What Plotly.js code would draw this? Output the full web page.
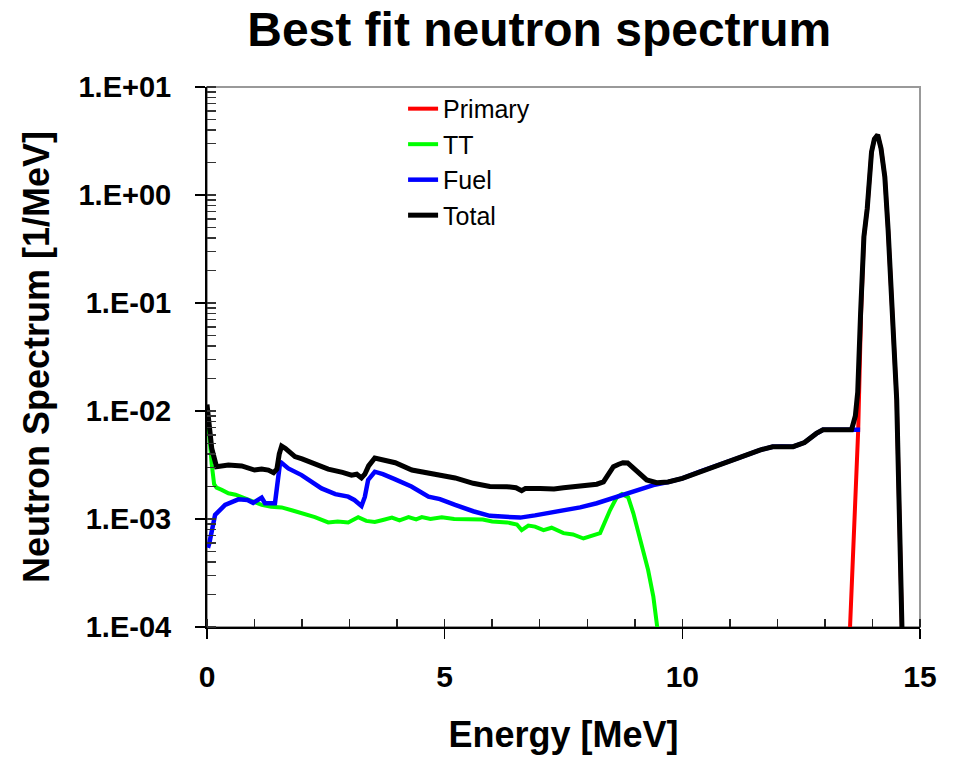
<!DOCTYPE html>
<html>
<head>
<meta charset="utf-8">
<script src="https://cdn.plot.ly/plotly-3.0.1.min.js"></script>
<style>html,body{margin:0;padding:0;background:#fff;}#chart{width:957px;height:757px;}</style>
</head>
<body>
<div id="chart"></div>
<script>
// ---- data ----
var seriesNames = ["Primary", "TT", "Fuel", "Total"];

var primaryE = [13.50, 13.53, 13.70, 13.76, 13.82, 13.89, 13.98, 14.04, 14.11, 14.18, 14.26, 14.33, 14.41, 14.51, 14.62, 14.66];
var primaryY = [0.00005, 0.0001, 0.0067, 0.08, 0.41, 0.75, 2.5, 3.3, 3.6, 2.7, 1.47, 0.47, 0.08, 0.0127, 0.0001, 0.00003];

var ttE = [0.0, 0.04, 0.10, 0.15, 0.20, 0.31, 0.45, 0.60, 0.80, 1.00, 1.15, 1.35, 1.57, 1.80, 1.99, 2.27, 2.55, 2.75, 2.97, 3.18, 3.35, 3.53, 3.70, 3.89, 4.05, 4.24, 4.40, 4.52, 4.70, 4.94, 5.20, 5.60, 5.80, 6.00, 6.31, 6.52, 6.62, 6.76, 6.90, 7.08, 7.25, 7.50, 7.70, 7.92, 8.10, 8.27, 8.48, 8.62, 8.73, 8.86, 8.97, 9.11, 9.28, 9.39, 9.46, 9.50];
var ttY = [0.0105, 0.0062, 0.0032, 0.0021, 0.00195, 0.00186, 0.00173, 0.00168, 0.00156, 0.00145, 0.00135, 0.0013, 0.00128, 0.0012, 0.00113, 0.00104, 0.00093, 0.00095, 0.00093, 0.00104, 0.00096, 0.00094, 0.00098, 0.00103, 0.00097, 0.00104, 0.00099, 0.00104, 0.0010, 0.00104, 0.0010, 0.00098, 0.00099, 0.00095, 0.00093, 0.00089, 0.00079, 0.00087, 0.00085, 0.00079, 0.00083, 0.00074, 0.00072, 0.00066, 0.0007, 0.00074, 0.00121, 0.00159, 0.0017, 0.00159, 0.00113, 0.00064, 0.000337, 0.000191, 0.000104, 0.00008];

var fuelE = [0.02, 0.05, 0.17, 0.38, 0.66, 0.85, 0.97, 1.08, 1.15, 1.22, 1.43, 1.54, 1.71, 1.99, 2.20, 2.41, 2.70, 2.97, 3.10, 3.25, 3.32, 3.39, 3.53, 3.70, 3.96, 4.30, 4.66, 4.90, 5.22, 5.60, 5.95, 6.30, 6.59, 6.90, 7.15, 7.50, 7.85, 8.20, 8.55, 8.83, 9.10, 9.39, 9.70, 10.00, 10.37, 10.79, 11.20, 11.63, 11.90, 12.10, 12.33, 12.57, 12.70, 12.82, 12.96, 13.20, 13.56, 13.74];
var fuelY = [0.00054, 0.0006, 0.00109, 0.00135, 0.00152, 0.0015, 0.00141, 0.0015, 0.00158, 0.0014, 0.0014, 0.0034, 0.00294, 0.00255, 0.0022, 0.00192, 0.0017, 0.00161, 0.0015, 0.00132, 0.0016, 0.0023, 0.00274, 0.0026, 0.00233, 0.0020, 0.00161, 0.00153, 0.00135, 0.00118, 0.00107, 0.00104, 0.00103, 0.00108, 0.00113, 0.0012, 0.00128, 0.0014, 0.00156, 0.0017, 0.00185, 0.00206, 0.0022, 0.00238, 0.00274, 0.00316, 0.0037, 0.00435, 0.00467, 0.0047, 0.00467, 0.0051, 0.0057, 0.0062, 0.0067, 0.0067, 0.0067, 0.0067];

var totalE = [0.0, 0.04, 0.10, 0.20, 0.45, 0.73, 1.00, 1.15, 1.29, 1.40, 1.47, 1.52, 1.57, 1.65, 1.85, 2.00, 2.20, 2.55, 2.85, 3.04, 3.15, 3.25, 3.32, 3.40, 3.53, 3.70, 3.96, 4.31, 4.60, 4.94, 5.22, 5.60, 5.95, 6.31, 6.50, 6.62, 6.70, 7.01, 7.30, 7.50, 7.71, 7.90, 8.06, 8.20, 8.34, 8.45, 8.55, 8.65, 8.75, 8.85, 8.90, 9.00, 9.11, 9.25, 9.46, 9.70, 10.00, 10.37, 10.79, 11.20, 11.63, 11.90, 12.10, 12.33, 12.57, 12.70, 12.82, 12.96, 13.20, 13.56, 13.64, 13.69, 13.75, 13.82, 13.89, 13.98, 14.04, 14.11, 14.18, 14.26, 14.33, 14.41, 14.51, 14.62, 14.66];
var totalY = [0.0115, 0.007, 0.0045, 0.00305, 0.00316, 0.0031, 0.00284, 0.0029, 0.00284, 0.00268, 0.0029, 0.0040, 0.00474, 0.0045, 0.00378, 0.0036, 0.0033, 0.0029, 0.0027, 0.00255, 0.0026, 0.0024, 0.0026, 0.0031, 0.00367, 0.0035, 0.00332, 0.00284, 0.0027, 0.0025, 0.0024, 0.00214, 0.0020, 0.00199, 0.00195, 0.00183, 0.00192, 0.00192, 0.0019, 0.00195, 0.00199, 0.0020, 0.00202, 0.0021, 0.00221, 0.0026, 0.00305, 0.0032, 0.00332, 0.0033, 0.00316, 0.0029, 0.00255, 0.0023, 0.00217, 0.0022, 0.00238, 0.00274, 0.00316, 0.0037, 0.00435, 0.00467, 0.0047, 0.00467, 0.0051, 0.0057, 0.0062, 0.0067, 0.0067, 0.0067, 0.009, 0.015, 0.08, 0.41, 0.75, 2.5, 3.3, 3.6, 2.7, 1.47, 0.47, 0.08, 0.0127, 0.0001, 0.00003];

var yTickVals = [10, 1, 0.1, 0.01, 0.001, 0.0001];
var yTickText = ["1.E+01", "1.E+00", "1.E-01", "1.E-02", "1.E-03", "1.E-04"];
var xTickVals = [0, 5, 10, 15];
var xTickText = ["0", "5", "10", "15"];

// ---- styling ----
var FONT = "Liberation Sans, Arial, Helvetica, sans-serif";
var colors = ["#FF0000", "#00FF00", "#0000FF", "#000000"];
var widths = [4, 4, 4.5, 5];

var xs = [primaryE, ttE, fuelE, totalE];
var ys = [primaryY, ttY, fuelY, totalY];
var traces = [];
for (var i = 0; i < 4; i++) {
  traces.push({
    x: xs[i], y: ys[i], type: "scatter", mode: "lines", name: seriesNames[i],
    line: {color: colors[i], width: widths[i]}, cliponaxis: true
  });
}

// minor tick positions (axis decoration)
var yMinor = [];
for (var d = -4; d < 1; d++) {
  for (var m = 1; m <= 9; m++) yMinor.push(m * Math.pow(10, d));
}
yMinor.push(10);
var xMinor = [];
for (var k = 0; k <= 15; k++) xMinor.push(k);

var layout = {
  width: 957, height: 757,
  margin: {l: 207, r: 37, t: 87, b: 130, pad: 0},
  paper_bgcolor: "#ffffff", plot_bgcolor: "#ffffff",
  showlegend: true,
  font: {family: FONT, color: "#000"},
  title: {
    text: "Best fit neutron spectrum",
    font: {family: FONT, size: 48, weight: "bold", color: "#000"},
    x: 0.466, xref: "paper", xanchor: "center",
    y: 0.962, yref: "container", yanchor: "middle"
  },
  xaxis: {
    range: [0, 15], type: "linear",
    tickmode: "array", tickvals: xTickVals, ticktext: xTickText,
    ticks: "outside", ticklen: 10, tickwidth: 1.5, tickcolor: "#000",
    minor: {tickmode: "array", tickvals: xMinor, ticks: "inside", ticklen: 8, tickwidth: 1.5, tickcolor: "#222", showgrid: false},
    showgrid: false, zeroline: false,
    showline: true, linecolor: "#000", linewidth: 2,
    tickfont: {family: FONT, size: 30, weight: "bold", color: "#000"},
    ticklabelstandoff: 12,
    title: {text: "Energy [MeV]", font: {family: FONT, size: 36, weight: "bold", color: "#000"}, standoff: 30}
  },
  yaxis: {
    type: "log", range: [-4, 1],
    tickmode: "array", tickvals: yTickVals, ticktext: yTickText,
    ticks: "outside", ticklen: 10, tickwidth: 1.5, tickcolor: "#000",
    minor: {tickmode: "array", tickvals: yMinor, ticks: "inside", ticklen: 9, tickwidth: 1.5, tickcolor: "#333", showgrid: false},
    showgrid: false, zeroline: false,
    showline: true, linecolor: "#000", linewidth: 2,
    tickfont: {family: FONT, size: 29, weight: "bold", color: "#000"},
    ticklabelstandoff: 18,
    title: {text: "Neutron Spectrum [1/MeV]", font: {family: FONT, size: 36, weight: "bold", color: "#000"}, standoff: 18}
  },
  legend: {
    x: 0.275, y: 1.002, xanchor: "left", yanchor: "top",
    bgcolor: "rgba(0,0,0,0)", borderwidth: 0,
    font: {family: FONT, size: 25, color: "#000"},
    traceorder: "normal"
  },
  shapes: [{
    type: "rect", xref: "paper", yref: "paper", x0: 0, x1: 1, y0: 0, y1: 1,
    line: {color: "#999999", width: 2}, layer: "below"
  }]
};

Plotly.newPlot("chart", traces, layout, {staticPlot: true, displayModeBar: false});
</script>
</body>
</html>
